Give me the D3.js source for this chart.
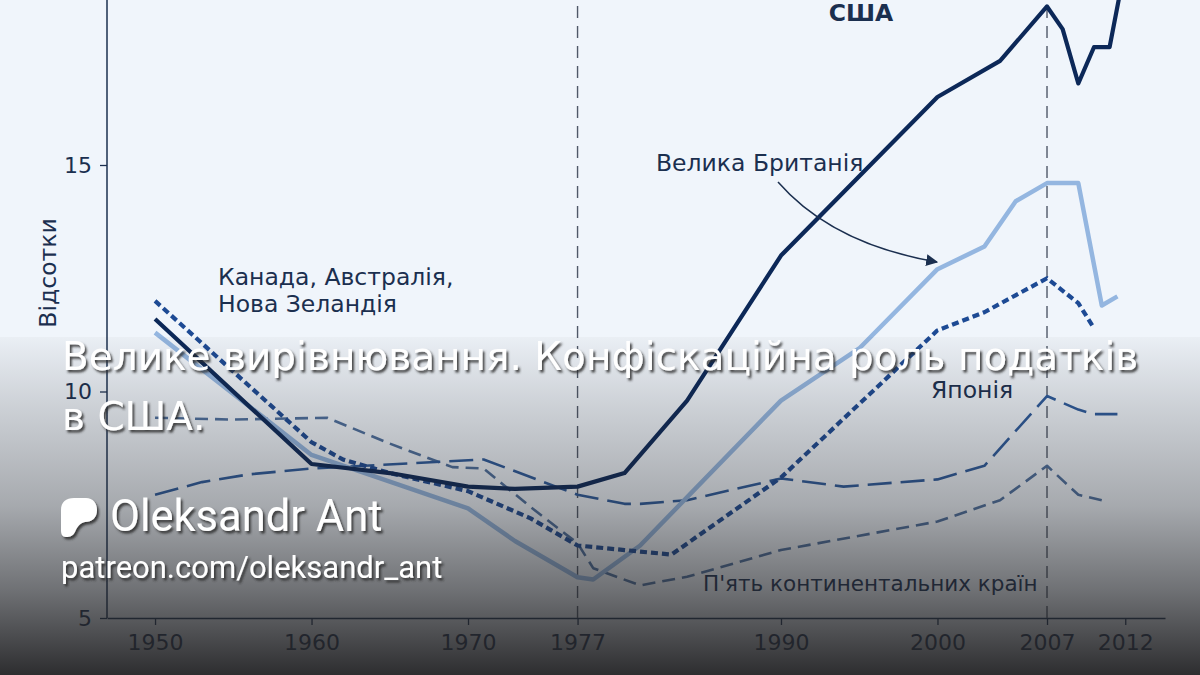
<!DOCTYPE html>
<html lang="uk">
<head>
    <meta charset="UTF-8">
    <script src="https://cdnjs.cloudflare.com/ajax/libs/d3/7.8.5/d3.min.js"></script>
    <title>Велике вирівнювання</title>
    <style>
        html, body { margin: 0; padding: 0; background: #f0f5fb; }
        svg { display: block; }
    </style>
</head>
<body>
    <div id='graph'></div>

    <script>
    // canvas settings
    let width = 1200;
    let height = 675;

    // data (percent)
    let usYears   = [1950, 1960, 1965, 1970, 1973, 1977, 1980, 1984, 1990, 2000, 2004, 2007, 2008, 2009, 2010, 2011, 2012];
    let usValues  = [11.6, 8.4, 8.2, 7.9, 7.85, 7.9, 8.2, 9.8, 13.0, 16.5, 17.3, 18.5, 18.0, 16.8, 17.6, 17.6, 19.4];

    let ukYears   = [1950, 1960, 1970, 1973, 1977, 1978, 1981, 1990, 1995, 2000, 2003, 2005, 2007, 2009, 2010.5, 2011.5];
    let ukValues  = [11.3, 8.6, 7.42, 6.7, 5.9, 5.85, 6.6, 9.8, 10.95, 12.7, 13.2, 14.2, 14.6, 14.6, 11.9, 12.1];

    let canYears  = [1950, 1960, 1962, 1965, 1970, 1974, 1977, 1980, 1983, 1990, 2000, 2003, 2007, 2009, 2010];
    let canValues = [12.0, 8.88, 8.5, 8.2, 7.8, 7.2, 6.6, 6.5, 6.4, 8.1, 11.35, 11.75, 12.5, 11.95, 11.4];

    let jpYears   = [1950, 1953, 1956, 1960, 1971, 1977, 1980, 1981, 1984, 1990, 1994, 2000, 2003, 2007, 2009, 2010, 2011.5];
    let jpValues  = [7.72, 8.0, 8.17, 8.3, 8.5, 7.72, 7.52, 7.52, 7.6, 8.08, 7.9, 8.06, 8.36, 9.9, 9.6, 9.5, 9.5];

    let euYears   = [1950, 1955, 1961, 1965, 1969, 1971, 1974, 1977, 1978, 1981, 1984, 1990, 2000, 2004, 2007, 2009, 2010.5];
    let euValues  = [9.42, 9.38, 9.42, 8.85, 8.33, 8.3, 7.45, 6.65, 6.1, 5.72, 5.91, 6.5, 7.13, 7.6, 8.36, 7.72, 7.6];

    // tick labels
    let xTicks = [1950, 1960, 1970, 1977, 1990, 2000, 2007, 2012];
    let yTicks = [5, 10, 15];
    let markYears = [1977, 2007];

    let ink = '#1b2f4f';

    let svg = d3.select('#graph')
        .append('svg')
        .attr('width', width)
        .attr('height', height);

    let defs = svg.append('defs');

    // fade to dark at the bottom
    let grad = defs.append('linearGradient')
        .attr('id', 'fade')
        .attr('x1', 0).attr('y1', 0).attr('x2', 0).attr('y2', 1);
    [[0, 0.03], [0.2, 0.17], [0.5, 0.36], [0.75, 0.63], [1, 0.95]].forEach(function(s) {
        grad.append('stop')
            .attr('offset', s[0])
            .attr('stop-color', '#232325')
            .attr('stop-opacity', s[1]);
    });

    let shadow = defs.append('filter')
        .attr('id', 'shadow')
        .attr('x', '-5%').attr('y', '-20%').attr('width', '110%').attr('height', '140%');
    shadow.append('feDropShadow')
        .attr('dx', 2).attr('dy', 2.5)
        .attr('stdDeviation', 0.8)
        .attr('flood-color', '#2a2a2a')
        .attr('flood-opacity', 0.85);

    defs.append('marker')
        .attr('id', 'arrow')
        .attr('viewBox', '0 0 10 10')
        .attr('refX', 9).attr('refY', 5)
        .attr('markerWidth', 12).attr('markerHeight', 12)
        .attr('markerUnits', 'userSpaceOnUse')
        .attr('orient', 'auto')
        .append('path')
        .attr('d', 'M0,0 L10,5 L0,10 z')
        .attr('fill', ink);

    // scales
    let x = d3.scaleLinear().domain([1946.93, 2014.54]).range([107, 1165]);
    let y = d3.scaleLinear().domain([5, 15]).range([618, 165]);

    // axes
    let yAxis = svg.append('g')
        .attr('transform', 'translate(107,0)')
        .call(d3.axisLeft(y).tickValues(yTicks).tickSize(7).tickPadding(8).tickSizeOuter(0));
    yAxis.select('.domain').attr('d', 'M0,' + y(5) + 'V0');

    let xAxis = svg.append('g')
        .attr('transform', 'translate(0,618)')
        .call(d3.axisBottom(x).tickValues(xTicks).tickFormat(d3.format('d'))
            .tickSize(7).tickPadding(9).tickSizeOuter(0));

    [xAxis, yAxis].forEach(function(a) {
        a.select('.domain').attr('stroke', ink).attr('stroke-width', 1.5);
        a.selectAll('.tick line').attr('stroke', ink).attr('stroke-width', 1.3);
        a.selectAll('.tick text')
            .attr('fill', ink)
            .attr('font-family', 'DejaVu Sans')
            .attr('font-size', '22px');
    });

    svg.append('text')
        .text('Відсотки')
        .attr('transform', 'translate(56,273) rotate(-90)')
        .attr('text-anchor', 'middle')
        .attr('font-family', 'DejaVu Sans')
        .attr('font-size', '23.5px')
        .attr('fill', ink);

    // vertical markers
    svg.selectAll('.mark')
        .data(markYears)
        .enter()
        .append('line')
        .attr('x1', function(d) { return x(d); })
        .attr('x2', function(d) { return x(d); })
        .attr('y1', y(5))
        .attr('y2', 0)
        .attr('stroke', '#4f5868')
        .attr('stroke-width', 1.4)
        .attr('stroke-dasharray', '12,8');

    // lines
    let line = d3.line()
        .x(function(d) { return x(d[0]); })
        .y(function(d) { return y(d[1]); });

    let series = [
        { years: euYears,  values: euValues,  color: '#4d6f9e', w: 2.6, dash: '13,7' },
        { years: jpYears,  values: jpValues,  color: '#2c5a9c', w: 2.6, dash: '24,9' },
        { years: ukYears,  values: ukValues,  color: '#94b6e0', w: 4.5, dash: null },
        { years: canYears, values: canValues, color: '#1d4a94', w: 4.2, dash: '7,4' },
        { years: usYears,  values: usValues,  color: '#0c2858', w: 4.2, dash: null }
    ];

    svg.selectAll('.series')
        .data(series)
        .enter()
        .append('path')
        .attr('d', function(s) { return line(d3.zip(s.years, s.values)); })
        .attr('fill', 'none')
        .attr('stroke', function(s) { return s.color; })
        .attr('stroke-width', function(s) { return s.w; })
        .attr('stroke-dasharray', function(s) { return s.dash; })
        .attr('stroke-linejoin', 'round');

    // labels on the chart
    let labels = [
        { t: 'США', x: 861, y: 21, anchor: 'middle', bold: true, size: 23.5 },
        { t: 'Велика Британія', x: 656, y: 171, anchor: 'start', size: 23.5 },
        { t: 'Канада, Австралія,', x: 218, y: 285, anchor: 'start', size: 23.5 },
        { t: 'Нова Зеландія', x: 218, y: 312, anchor: 'start', size: 23.5 },
        { t: 'Японія', x: 931, y: 398, anchor: 'start', size: 23.5 },
        { t: "П'ять континентальних країн", x: 703, y: 591, anchor: 'start', size: 21.5 }
    ];

    svg.selectAll('.lbl')
        .data(labels)
        .enter()
        .append('text')
        .text(function(d) { return d.t; })
        .attr('x', function(d) { return d.x; })
        .attr('y', function(d) { return d.y; })
        .attr('text-anchor', function(d) { return d.anchor; })
        .attr('font-family', 'DejaVu Sans')
        .attr('font-size', function(d) { return d.size + 'px'; })
        .attr('font-weight', function(d) { return d.bold ? 'bold' : 'normal'; })
        .attr('fill', ink);

    svg.append('path')
        .attr('d', 'M778,182 Q832,244 937,262')
        .attr('fill', 'none')
        .attr('stroke', ink)
        .attr('stroke-width', 1.5)
        .attr('marker-end', 'url(#arrow)');

    // dark fade at the bottom
    svg.append('rect')
        .attr('x', 0).attr('y', 337)
        .attr('width', width).attr('height', height - 337)
        .attr('fill', 'url(#fade)');

    // overlay title and signature
    let over = svg.append('g')
        .attr('fill', '#ffffff')
        .attr('filter', 'url(#shadow)');

    over.append('text')
        .text('Велике вирівнювання. Конфіскаційна роль податків')
        .attr('x', 62).attr('y', 370)
        .attr('font-family', 'DejaVu Sans')
        .attr('font-size', '39px');

    over.append('text')
        .text('в США.')
        .attr('x', 62).attr('y', 430)
        .attr('font-family', 'DejaVu Sans')
        .attr('font-size', '39px');

    // patreon mark
    over.append('path')
        .attr('d', 'M61,510 C61,502 66,498 74,498 L86,498 C93,498 97,503 97,510 ' +
                   'C97,518 92,522 85,522 C80,523 77,527 75,532 C73,536 70,537 66,537 ' +
                   'C62,537 61,534 61,530 Z');

    over.append('text')
        .text('Oleksandr Ant')
        .attr('x', 110).attr('y', 531)
        .attr('font-family', 'Roboto')
        .attr('font-size', '43.5px');

    over.append('text')
        .text('patreon.com/oleksandr_ant')
        .attr('x', 61).attr('y', 578)
        .attr('font-family', 'Roboto')
        .attr('font-size', '31px');
    </script>
</body>
</html>
